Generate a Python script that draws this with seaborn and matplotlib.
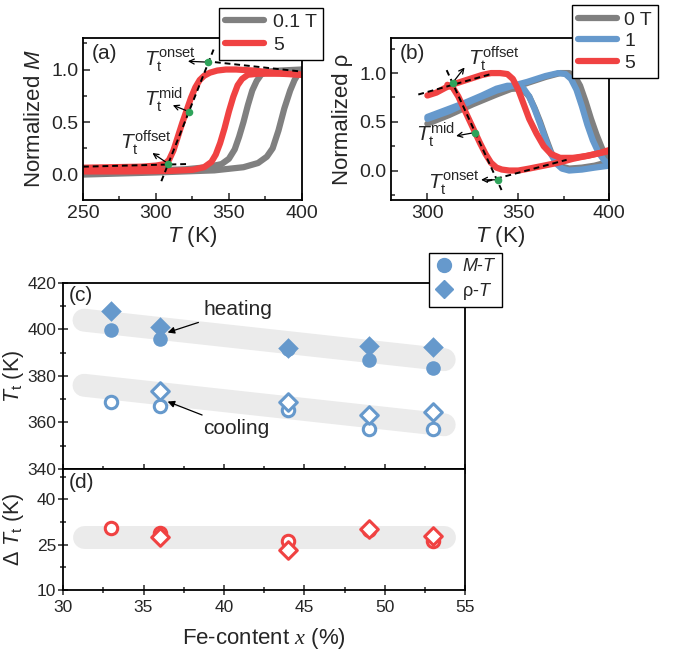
import matplotlib
matplotlib.use("Agg")
import matplotlib.pyplot as plt
from matplotlib.ticker import MultipleLocator, AutoMinorLocator
from matplotlib.lines import Line2D
import seaborn as sns

# ------------------------------------------------------------
# Data
# ------------------------------------------------------------

# (a) normalized M vs T
a_gray_heat_T = [250, 300, 340, 360, 370, 376, 380, 384, 388, 392, 395, 398, 400]
a_gray_heat_M = [0.0, 0.02, 0.04, 0.07, 0.11, 0.17, 0.25, 0.42, 0.63, 0.80, 0.90, 0.97, 1.0]
a_gray_cool_T = [400, 385, 376, 372, 369, 366, 363, 360, 357, 354, 350, 345, 335, 320, 300, 250]
a_gray_cool_M = [1.0, 0.99, 0.98, 0.95, 0.89, 0.80, 0.66, 0.50, 0.36, 0.24, 0.15, 0.10, 0.07, 0.05, 0.04, 0.02]

a_red_heat_T = [250, 280, 310, 325, 333, 338, 341, 344, 347, 350, 353, 356, 359, 363, 370, 385, 400]
a_red_heat_M = [0.03, 0.03, 0.035, 0.045, 0.07, 0.12, 0.19, 0.30, 0.44, 0.60, 0.74, 0.85, 0.91, 0.95, 0.96, 0.96, 0.95]
a_red_cool_T = [400, 380, 367, 355, 348, 342, 337, 333, 330, 327, 324, 321, 318, 315, 312, 309, 306, 300, 290, 270, 250]
a_red_cool_M = [0.95, 0.97, 0.99, 1.0, 1.0, 0.99, 0.97, 0.94, 0.90, 0.83, 0.73, 0.61, 0.49, 0.36, 0.23, 0.14, 0.10, 0.085, 0.075, 0.07, 0.065]

a_tan_low_T, a_tan_low_M = [250, 321], [0.075, 0.10]
a_tan_mid_T, a_tan_mid_M = [303.7, 339.5], [-0.063, 1.19]
a_tan_top_T, a_tan_top_M = [333.8, 400], [1.08, 0.98]
a_dots_T = [335.6, 322.4, 308.2]
a_dots_M = [1.07, 0.60, 0.105]

# (b) normalized rho vs T
b_gray_heat_T = [300, 312, 325, 338, 352, 365, 373, 378, 381, 384, 387, 390, 393, 396, 400]
b_gray_heat_R = [0.48, 0.57, 0.68, 0.78, 0.88, 0.96, 1.0, 1.0, 0.97, 0.87, 0.71, 0.53, 0.37, 0.23, 0.10]
b_gray_cool_T = [400, 392, 385, 378, 374, 371, 368, 365, 362, 359, 356, 352, 345, 338]
b_gray_cool_R = [0.09, 0.05, 0.03, 0.02, 0.04, 0.09, 0.19, 0.34, 0.50, 0.64, 0.76, 0.84, 0.84, 0.80]

b_blue_heat_T = [300, 312, 325, 338, 347, 355, 365, 372, 376, 379, 382, 385, 388, 391, 394, 397, 400]
b_blue_heat_R = [0.53, 0.61, 0.72, 0.82, 0.87, 0.91, 0.97, 1.0, 0.99, 0.94, 0.83, 0.66, 0.47, 0.31, 0.19, 0.11, 0.06]
b_blue_cool_T = [400, 392, 385, 378, 374, 371, 368, 365, 362, 359, 356, 353, 349, 344, 338, 330, 320, 310, 300]
b_blue_cool_R = [0.05, 0.03, 0.01, 0.0, 0.02, 0.07, 0.17, 0.32, 0.48, 0.63, 0.76, 0.84, 0.87, 0.87, 0.84, 0.77, 0.69, 0.62, 0.55]

b_red_heat_T = [300, 305, 310, 315, 320, 325, 330, 335, 340, 344, 347, 350, 353, 356, 360, 364, 368, 373, 380, 388, 395, 400]
b_red_heat_R = [0.77, 0.80, 0.85, 0.89, 0.92, 0.95, 0.98, 1.0, 1.0, 0.99, 0.94, 0.83, 0.68, 0.53, 0.38, 0.25, 0.17, 0.13, 0.13, 0.15, 0.18, 0.21]
b_red_cool_T = [400, 390, 380, 372, 364, 356, 350, 345, 341, 338, 335, 332, 329, 326, 323, 320, 317, 314, 311]
b_red_cool_R = [0.20, 0.16, 0.12, 0.08, 0.05, 0.02, 0.0, 0.0, 0.01, 0.03, 0.08, 0.17, 0.28, 0.40, 0.52, 0.64, 0.76, 0.85, 0.88]

b_tan_top_T, b_tan_top_R = [295, 335], [0.78, 0.99]
b_tan_mid_T, b_tan_mid_R = [310.6, 340.8], [1.03, -0.2]
b_tan_low_T, b_tan_low_R = [332.6, 376.6], [-0.11, 0.11]
b_dots_T = [313.9, 326.2, 338.6]
b_dots_R = [0.90, 0.39, -0.095]

# (c) transition temperatures vs Fe content
fe = [33, 36, 44, 49, 53]
fe_rho = [36, 44, 49, 53]
heat_MT = [399.6, 395.7, 391.5, 387.0, 383.4]
heat_RT = [408.0, 401.0, 392.2, 393.0, 392.5]
cool_MT = [369.0, 367.0, 365.5, 357.0, 357.0]
cool_RT = [373.4, 369.0, 363.0, 364.5]

band_x = [31.3, 53.7]
heat_band = [404, 387]
cool_band = [376, 359]

# (d) hysteresis width
dT_MT = [30.5, 29.0, 26.2, 30.0, 26.3]
dT_RT = [27.6, 23.2, 30.2, 27.9]
dT_band = [27.6, 27.6]
dT_ticks = [10, 25, 40]

# ------------------------------------------------------------
# Style
# ------------------------------------------------------------

sns.set_theme(style="ticks")
plt.rcParams["font.family"] = ["Liberation Sans", "DejaVu Sans"]
plt.rcParams["mathtext.fontset"] = "custom"
plt.rcParams["mathtext.rm"] = "Liberation Sans"
plt.rcParams["mathtext.it"] = "Liberation Sans:italic"
plt.rcParams["mathtext.cal"] = "Liberation Serif:italic"
plt.rcParams["axes.linewidth"] = 1.3
plt.rcParams["axes.edgecolor"] = "black"
plt.rcParams["legend.fancybox"] = False
plt.rcParams["legend.edgecolor"] = "black"
plt.rcParams["legend.framealpha"] = 1

GRAY = "#808080"
RED = "#F04242"
BLUE = "#6699CC"
GREEN = "#2EA35A"
BAND = "#EBEBEB"

fig = plt.figure(figsize=(6.86, 6.55), dpi=100)

ax_a = fig.add_axes([0.121, 0.695, 0.319, 0.247])
ax_b = fig.add_axes([0.570, 0.695, 0.318, 0.247])
ax_c = fig.add_axes([0.092, 0.284, 0.586, 0.284])
ax_d = fig.add_axes([0.092, 0.099, 0.586, 0.185], sharex=ax_c)


def curve(ax, x, y, color, lw=4.5, label=None, **kw):
    sns.lineplot(x=x, y=y, sort=False, estimator=None, color=color,
                 lw=lw, label=label, legend=False, ax=ax, **kw)


def arrow(ax, start, end):
    ax.annotate("", xy=end, xytext=start,
                arrowprops=dict(arrowstyle="->", color="black", lw=0.9,
                                mutation_scale=9))


# ------------------------------------------------------------
# (a)
# ------------------------------------------------------------

curve(ax_a, a_gray_heat_T, a_gray_heat_M, GRAY)
curve(ax_a, a_gray_cool_T, a_gray_cool_M, GRAY)
curve(ax_a, a_red_heat_T, a_red_heat_M, RED)
curve(ax_a, a_red_cool_T, a_red_cool_M, RED)

for tx, ty in [(a_tan_low_T, a_tan_low_M), (a_tan_mid_T, a_tan_mid_M),
               (a_tan_top_T, a_tan_top_M)]:
    curve(ax_a, tx, ty, "black", lw=1.4, linestyle=(0, (3, 2)))

sns.scatterplot(x=a_dots_T, y=a_dots_M, color=GREEN, s=30, linewidth=0,
                zorder=5, ax=ax_a)

arrow(ax_a, (a_dots_T[0], a_dots_M[0]), (320, 1.08))
arrow(ax_a, (a_dots_T[1], a_dots_M[1]), (309.8, 0.67))
arrow(ax_a, (a_dots_T[2], a_dots_M[2]), (296, 0.22))

ax_a.text(291.5, 1.1, r"$T_\mathrm{t}^\mathrm{onset}$", fontsize=15, va="center")
ax_a.text(291.5, 0.71, r"$T_\mathrm{t}^\mathrm{mid}$", fontsize=15, va="center")
ax_a.text(275.5, 0.30, r"$T_\mathrm{t}^\mathrm{offset}$", fontsize=15, va="center")
ax_a.text(0.04, 0.96, "(a)", transform=ax_a.transAxes, fontsize=15, va="top")

ax_a.set_xlim(250, 400)
ax_a.set_ylim(-0.24, 1.3)
ax_a.xaxis.set_major_locator(MultipleLocator(50))
ax_a.xaxis.set_minor_locator(AutoMinorLocator(2))
ax_a.yaxis.set_major_locator(MultipleLocator(0.5))
ax_a.yaxis.set_minor_locator(AutoMinorLocator(2))
ax_a.set_xlabel(r"$T$ (K)", fontsize=16, labelpad=2)
ax_a.set_ylabel(r"Normalized $M$", fontsize=16, labelpad=4)

legend_a = [Line2D([], [], color=GRAY, lw=4.5), Line2D([], [], color=RED, lw=4.5)]
ax_a.legend(legend_a, ["0.1 T", "5"], loc="upper right",
            bbox_to_anchor=(0.471, 0.988), bbox_transform=fig.transFigure,
            fontsize=14, handlelength=2.0, handletextpad=0.5,
            borderpad=0.3, labelspacing=0.25, borderaxespad=0)

# ------------------------------------------------------------
# (b)
# ------------------------------------------------------------

curve(ax_b, b_gray_heat_T, b_gray_heat_R, GRAY)
curve(ax_b, b_gray_cool_T, b_gray_cool_R, GRAY)
curve(ax_b, b_blue_heat_T, b_blue_heat_R, BLUE)
curve(ax_b, b_blue_cool_T, b_blue_cool_R, BLUE)
curve(ax_b, b_red_heat_T, b_red_heat_R, RED)
curve(ax_b, b_red_cool_T, b_red_cool_R, RED)

for tx, ty in [(b_tan_top_T, b_tan_top_R), (b_tan_mid_T, b_tan_mid_R),
               (b_tan_low_T, b_tan_low_R)]:
    curve(ax_b, tx, ty, "black", lw=1.4, linestyle=(0, (3, 2)))

sns.scatterplot(x=b_dots_T, y=b_dots_R, color=GREEN, s=30, linewidth=0,
                zorder=5, ax=ax_b)

arrow(ax_b, (b_dots_T[0], b_dots_R[0]), (321.4, 1.08))
arrow(ax_b, (b_dots_T[1], b_dots_R[1]), (314.3, 0.35))
arrow(ax_b, (b_dots_T[2], b_dots_R[2]), (328, -0.095))

ax_b.text(322.5, 1.15, r"$T_\mathrm{t}^\mathrm{offset}$", fontsize=15, va="center")
ax_b.text(294, 0.37, r"$T_\mathrm{t}^\mathrm{mid}$", fontsize=15, va="center")
ax_b.text(300.5, -0.12, r"$T_\mathrm{t}^\mathrm{onset}$", fontsize=15, va="center")
ax_b.text(0.04, 0.96, "(b)", transform=ax_b.transAxes, fontsize=15, va="top")

ax_b.set_xlim(280, 400)
ax_b.set_ylim(-0.3, 1.36)
ax_b.xaxis.set_major_locator(MultipleLocator(50))
ax_b.xaxis.set_minor_locator(AutoMinorLocator(2))
ax_b.yaxis.set_major_locator(MultipleLocator(0.5))
ax_b.yaxis.set_minor_locator(AutoMinorLocator(2))
ax_b.set_xlabel(r"$T$ (K)", fontsize=16, labelpad=2)
ax_b.set_ylabel("Normalized ρ", fontsize=16, labelpad=4)

legend_b = [Line2D([], [], color=GRAY, lw=4.5), Line2D([], [], color=BLUE, lw=4.5),
            Line2D([], [], color=RED, lw=4.5)]
ax_b.legend(legend_b, ["0 T", "1", "5"], loc="upper right",
            bbox_to_anchor=(0.959, 0.992), bbox_transform=fig.transFigure,
            fontsize=14, handlelength=2.0, handletextpad=0.4,
            borderpad=0.3, labelspacing=0.2, borderaxespad=0)

for ax in (ax_a, ax_b):
    ax.tick_params(which="both", direction="in", labelsize=14, width=1.1)
    ax.tick_params(which="major", length=5)
    ax.tick_params(which="minor", length=3)

# ------------------------------------------------------------
# (c)
# ------------------------------------------------------------

curve(ax_c, band_x, heat_band, BAND, lw=16.5, solid_capstyle="round", zorder=1)
curve(ax_c, band_x, cool_band, BAND, lw=16.5, solid_capstyle="round", zorder=1)

sns.scatterplot(x=fe, y=heat_MT, marker="o", s=110, color=BLUE, linewidth=0,
                zorder=3, ax=ax_c)
sns.scatterplot(x=fe, y=heat_RT, marker="D", s=110, color=BLUE, linewidth=0,
                zorder=3, ax=ax_c)
sns.scatterplot(x=fe, y=cool_MT, marker="o", s=80, facecolor="white",
                edgecolor=BLUE, linewidth=2.2, zorder=3, ax=ax_c)
sns.scatterplot(x=fe_rho, y=cool_RT, marker="D", s=80, facecolor="white",
                edgecolor=BLUE, linewidth=2.2, zorder=3, ax=ax_c)

ax_c.annotate("heating", xy=(36.5, 398.7), xytext=(38.7, 408.5),
              fontsize=15, va="center",
              arrowprops=dict(arrowstyle="-|>", color="black", lw=0.9,
                              mutation_scale=10, shrinkA=1, shrinkB=0))
ax_c.annotate("cooling", xy=(36.5, 369), xytext=(38.7, 357.5),
              fontsize=15, va="center",
              arrowprops=dict(arrowstyle="-|>", color="black", lw=0.9,
                              mutation_scale=10, shrinkA=1, shrinkB=0))
ax_c.text(0.015, 0.985, "(c)", transform=ax_c.transAxes, fontsize=15, va="top")

ax_c.set_ylim(340, 420)
ax_c.yaxis.set_major_locator(MultipleLocator(20))
ax_c.yaxis.set_minor_locator(AutoMinorLocator(2))
ax_c.set_ylabel(r"$T_\mathrm{t}$ (K)", fontsize=15.5)
ax_c.yaxis.set_label_coords(-0.092, 0.5)
ax_c.tick_params(axis="x", labelbottom=False)

legend_c = [Line2D([], [], marker="o", color=BLUE, ls="none", markersize=10),
            Line2D([], [], marker="D", color=BLUE, ls="none", markersize=9)]
ax_c.legend(legend_c, [r"$M$-$T$", r"ρ-$T$"], loc="upper right",
            bbox_to_anchor=(0.732, 0.614), bbox_transform=fig.transFigure,
            fontsize=13, handlelength=1.0, handletextpad=0.5,
            borderpad=0.3, labelspacing=0.3, borderaxespad=0)

# ------------------------------------------------------------
# (d)
# ------------------------------------------------------------

curve(ax_d, band_x, dT_band, BAND, lw=16.5, solid_capstyle="round", zorder=1)
sns.scatterplot(x=fe, y=dT_MT, marker="o", s=80, facecolor="white",
                edgecolor=RED, linewidth=2.2, zorder=3, ax=ax_d)
sns.scatterplot(x=fe_rho, y=dT_RT, marker="D", s=80, facecolor="white",
                edgecolor=RED, linewidth=2.2, zorder=3, ax=ax_d)
ax_d.text(0.015, 0.97, "(d)", transform=ax_d.transAxes, fontsize=15, va="top")

ax_d.set_xlim(30, 55)
ax_d.set_ylim(10, 50)
ax_d.xaxis.set_major_locator(MultipleLocator(5))
ax_d.xaxis.set_minor_locator(AutoMinorLocator(2))
ax_d.set_yticks(dT_ticks)
ax_d.yaxis.set_minor_locator(AutoMinorLocator(2))
ax_d.set_ylabel(r"Δ $T_\mathrm{t}$ (K)", fontsize=15.5)
ax_d.yaxis.set_label_coords(-0.092, 0.5)
ax_d.set_xlabel(r"Fe-content $\mathcal{x}$ (%)", fontsize=16, labelpad=8)

for ax in (ax_c, ax_d):
    ax.tick_params(which="both", direction="inout", labelsize=12.5, width=1.1)
    ax.tick_params(axis="y", pad=1.5)
    ax.tick_params(which="major", length=7)
    ax.tick_params(which="minor", length=5)

fig.savefig("out.png", dpi=100)
plt.close(fig)
